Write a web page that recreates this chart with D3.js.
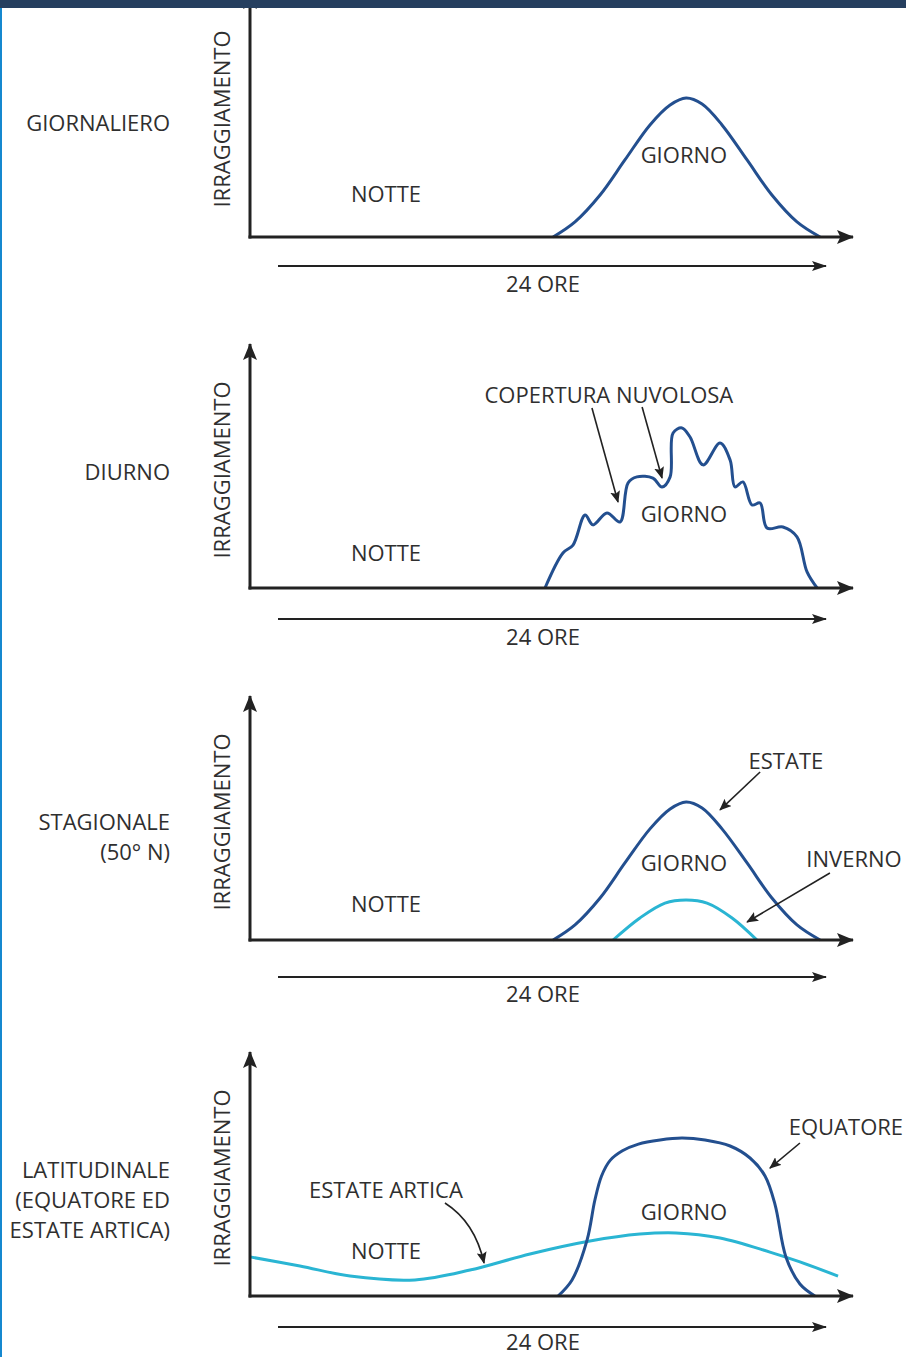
<!DOCTYPE html>
<head>
  <meta charset="utf-8">
  <script src="https://d3js.org/d3.v7.min.js"></script>
  <style>
  body,html {margin:0; background:#fff; font-family:"Open Sans", sans-serif;}
  .lbl {font-size:22px; fill:#2f2f2f;}
</style>
</head>

<body>
  <script>

    const width = 906;
    const height = 1357;

    // DATA (hours 0-24, irradiance in arbitrary units 0-100)
    const giornoHours = [12.33, 13.22, 14.24, 15.25, 16.27, 17.09, 17.74, 18.39, 19.2, 20.22, 21.23, 22.25, 23.19];
    const giornalieroVals = [0, 6.3, 17.5, 32.1, 46.7, 55, 57.9, 55.4, 46.7, 32.1, 17.5, 6.3, 0];

    const diurnoHours = [12.0, 12.73, 13.14, 13.63, 13.95, 14.52, 15.05, 15.38, 15.74, 16.39, 16.76, 17.09, 17.21, 17.57, 17.9, 18.43, 19.12, 19.53, 19.73, 20.05, 20.42, 20.75, 21.03, 21.68, 22.25, 22.66, 23.07];
    const diurnoVals = [0, 14.6, 17.9, 30.4, 26.3, 31.3, 27.5, 43.8, 46.3, 45.8, 42.1, 46.3, 64.6, 66.7, 62.9, 51.3, 60.4, 53.3, 42.1, 44.2, 34.6, 35.4, 25, 25.4, 21.3, 6.7, 0];

    const estateVals = [0, 6.3, 17.5, 32.1, 46.3, 54.6, 57.5, 55, 46.3, 32.1, 17.5, 6.3, 0];
    const invernoHours = [14.77, 15.86, 16.88, 17.74, 18.59, 19.61, 20.62];
    const invernoVals = [0, 9.2, 15.4, 16.7, 15.4, 9.2, 0];

    const equatoreHours = [12.53, 13.1, 13.71, 14.03, 14.3, 14.65, 15.15, 15.8, 16.68, 17.57, 18.51, 19.53, 20.34, 20.95, 21.36, 21.8, 22.37, 22.98];
    const equatoreVals = [0, 6.7, 23.3, 40, 50, 56.5, 60.5, 63.3, 65, 65.8, 65, 62.5, 57.5, 50, 38, 16.3, 5, 0];
    const articaHours = [0, 2.03, 4.07, 6.71, 8.95, 11.39, 13.83, 15.86, 17.33, 19.12, 21.15, 22.37, 23.92];
    const articaVals = [16.3, 12.5, 8.3, 6.7, 10.8, 17.5, 22.9, 25.8, 26.3, 24.2, 18.3, 14.2, 8.3];

    const panelNames = [["GIORNALIERO"], ["DIURNO"], ["STAGIONALE", "(50° N)"], ["LATITUDINALE", "(EQUATORE ED", "ESTATE ARTICA)"]];
    const yLabel = "IRRAGGIAMENTO";
    const xLabel = "24 ORE";

    const DARK = "#234f8f";
    const LIGHT = "#2ab5d3";
    const INK = "#222";

    // layout of the four panels
    const panels = [
      {base: 237, timeY: 266, timeText: 292, nameY: 123, notte: 17.9, giorno: 34.2,
        series: [{h: giornoHours, v: giornalieroVals, c: DARK}], notes: []},
      {base: 588, timeY: 619, timeText: 645, nameY: 472, notte: 14.6, giorno: 30.8,
        series: [{h: diurnoHours, v: diurnoVals, c: DARK}],
        notes: [
          {text: "COPERTURA NUVOLOSA", at: [14.6, 80.4], arrows: [[[13.91, 75], [14.97, 35.8]], [[15.95, 75.4], [16.76, 45.8]]]}
        ]},
      {base: 940, timeY: 977, timeText: 1002, nameY: 822, notte: 15, giorno: 32.1,
        series: [{h: giornoHours, v: estateVals, c: DARK}, {h: invernoHours, v: invernoVals, c: LIGHT}],
        notes: [
          {text: "ESTATE", at: [21.8, 74.6], arrows: [[[20.75, 70], [19.12, 54.2]]]},
          {text: "INVERNO", at: [24.57, 33.75], arrows: [[[23.59, 27.9], [20.22, 7.5]]]}
        ]},
      {base: 1296, timeY: 1327, timeText: 1350, nameY: 1170, notte: 18.75, giorno: 35,
        series: [{h: articaHours, v: articaVals, c: LIGHT}, {h: equatoreHours, v: equatoreVals, c: DARK}],
        notes: [
          {text: "EQUATORE", at: [24.24, 70.4], arrows: [[[22.37, 63.75], [21.15, 53.3]]]},
          {text: "ESTATE ARTICA", at: [5.53, 44.2], arrows: [[[7.93, 38.75], [9.15, 30.8], [9.52, 13.75]]]}
        ]}
    ];

    const x = d3.scaleLinear().domain([0, 24]).range([250, 840]);

    const svg = d3.select("body").append("svg")
      .attr("width", width)
      .attr("height", height);

    svg.append("rect").attr("width", width).attr("height", height).attr("fill", "#fff");

    const defs = svg.append("defs");
    function marker(id, len, wid) {
      defs.append("marker")
        .attr("id", id)
        .attr("markerUnits", "userSpaceOnUse")
        .attr("viewBox", `0 0 ${len} ${wid}`)
        .attr("refX", len - 1).attr("refY", wid / 2)
        .attr("markerWidth", len).attr("markerHeight", wid)
        .attr("orient", "auto")
        .append("path")
        .attr("d", `M0,0 L${len},${wid / 2} L0,${wid} L${len * 0.2},${wid / 2} Z`)
        .attr("fill", INK);
    }
    marker("axisHead", 17, 14);
    marker("timeHead", 15, 10);
    marker("noteHead", 12, 10);

    panels.forEach((p, i) => {
      const y = d3.scaleLinear().domain([0, 100]).range([p.base, p.base - 240]);
      const g = svg.append("g");

      // curves
      const line = d3.line().curve(d3.curveCatmullRom.alpha(0.5));
      p.series.forEach(s => {
        g.append("path")
          .attr("d", line(s.h.map((h, k) => [x(h), y(s.v[k])])))
          .attr("fill", "none")
          .attr("stroke", s.c)
          .attr("stroke-width", 3)
          .attr("stroke-linejoin", "round");
      });

      // axes
      g.append("line")
        .attr("x1", x(0)).attr("x2", x(0))
        .attr("y1", p.base + 1.5).attr("y2", p.base - 244)
        .attr("stroke", INK).attr("stroke-width", 3)
        .attr("marker-end", "url(#axisHead)");
      g.append("line")
        .attr("x1", x(0) - 1.5).attr("x2", 853)
        .attr("y1", p.base).attr("y2", p.base)
        .attr("stroke", INK).attr("stroke-width", 3)
        .attr("marker-end", "url(#axisHead)");

      // 24 ORE arrow
      g.append("line")
        .attr("x1", 278).attr("x2", 826)
        .attr("y1", p.timeY).attr("y2", p.timeY)
        .attr("stroke", INK).attr("stroke-width", 2)
        .attr("marker-end", "url(#timeHead)");
      g.append("text").attr("class", "lbl")
        .attr("x", x(12) - 2).attr("y", p.timeText)
        .attr("text-anchor", "middle")
        .text(xLabel);

      // y label
      g.append("text").attr("class", "lbl")
        .attr("transform", `translate(230,${p.base - 118}) rotate(-90)`)
        .attr("text-anchor", "middle")
        .text(yLabel);

      // panel name
      panelNames[i].forEach((t, k) => {
        g.append("text").attr("class", "lbl")
          .attr("x", 170).attr("y", p.nameY + k * 30)
          .attr("dy", "0.35em")
          .attr("text-anchor", "end")
          .text(t);
      });

      g.append("text").attr("class", "lbl")
        .attr("x", x(5.53)).attr("y", y(p.notte)).attr("dy", "0.35em")
        .attr("text-anchor", "middle").text("NOTTE");
      g.append("text").attr("class", "lbl")
        .attr("x", x(17.65)).attr("y", y(p.giorno)).attr("dy", "0.35em")
        .attr("text-anchor", "middle").text("GIORNO");

      // annotations
      p.notes.forEach(n => {
        g.append("text").attr("class", "lbl")
          .attr("x", x(n.at[0])).attr("y", y(n.at[1])).attr("dy", "0.35em")
          .attr("text-anchor", "middle").text(n.text);
        n.arrows.forEach(a => {
          const pts = a.map(d => [x(d[0]), y(d[1])]);
          let d = `M${pts[0][0]},${pts[0][1]}`;
          if (pts.length === 3) d += ` Q${pts[1][0]},${pts[1][1]} ${pts[2][0]},${pts[2][1]}`;
          else d += ` L${pts[1][0]},${pts[1][1]}`;
          g.append("path")
            .attr("d", d)
            .attr("fill", "none")
            .attr("stroke", INK).attr("stroke-width", 1.6)
            .attr("marker-end", "url(#noteHead)");
        });
      });
    });

    // frame: top bar and left edge
    svg.append("rect").attr("x", 0).attr("y", 0).attr("width", width).attr("height", 8).attr("fill", "#263f5f");
    svg.append("rect").attr("x", 0).attr("y", 8).attr("width", 2).attr("height", height - 8).attr("fill", "#1588cf");

  </script>
</body>
